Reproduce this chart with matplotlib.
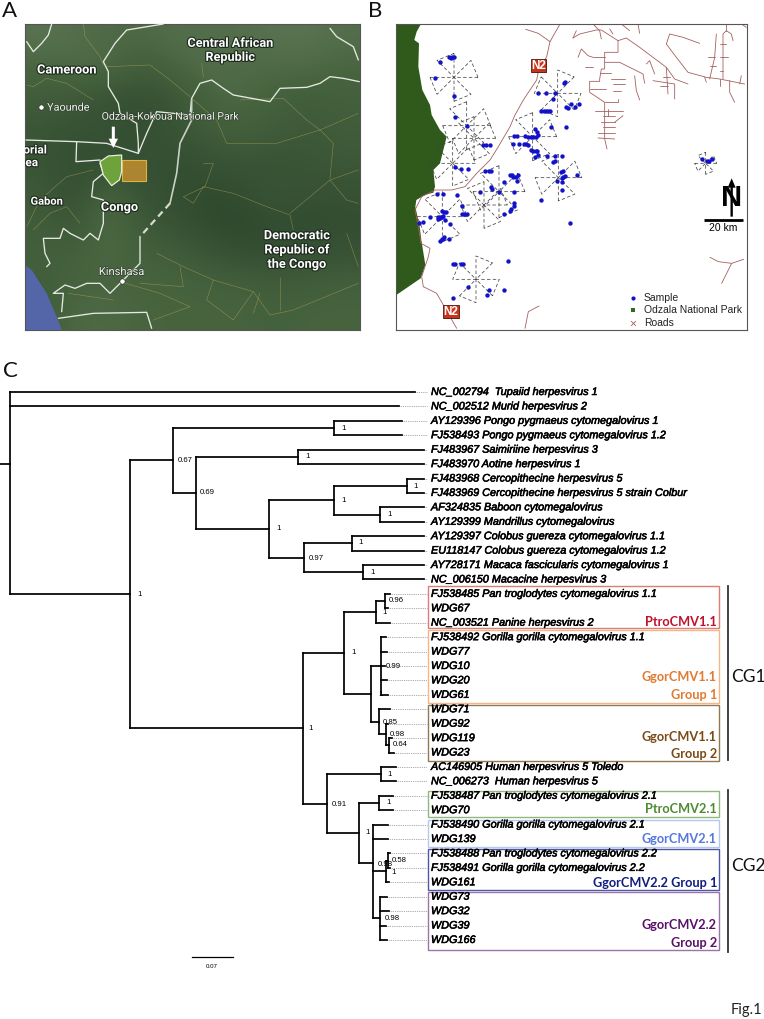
import matplotlib
matplotlib.use('Agg')
import matplotlib.pyplot as plt
import matplotlib.patheffects as pe
from matplotlib.colors import LinearSegmentedColormap
from matplotlib.patches import Polygon, Rectangle, FancyArrow
import numpy as np

W, H = 764, 1019

# ---- panel C data
tip_names = [
    'NC_002794  Tupaiid herpesvirus 1', 'NC_002512 Murid herpesvirus 2',
    'AY129396 Pongo pygmaeus cytomegalovirus 1', 'FJ538493 Pongo pygmaeus cytomegalovirus 1.2',
    'FJ483967 Saimiriine herpesvirus 3', 'FJ483970 Aotine herpesvirus 1',
    'FJ483968 Cercopithecine herpesvirus 5', 'FJ483969 Cercopithecine herpesvirus 5 strain Colbur',
    'AF324835 Baboon cytomegalovirus', 'AY129399 Mandrillus cytomegalovirus',
    'AY129397 Colobus guereza cytomegalovirus 1.1', 'EU118147 Colobus guereza cytomegalovirus 1.2',
    'AY728171 Macaca fascicularis cytomegalovirus 1', 'NC_006150 Macacine herpesvirus 3',
    'FJ538485 Pan troglodytes cytomegalovirus 1.1', 'WDG67', 'NC_003521 Panine herpesvirus 2',
    'FJ538492 Gorilla gorilla cytomegalovirus 1.1', 'WDG77', 'WDG10', 'WDG20', 'WDG61',
    'WDG71', 'WDG92', 'WDG119', 'WDG23',
    'AC146905 Human herpesvirus 5 Toledo', 'NC_006273  Human herpesvirus 5',
    'FJ538487 Pan troglodytes cytomegalovirus 2.1', 'WDG70',
    'FJ538490 Gorilla gorilla cytomegalovirus 2.1', 'WDG139',
    'FJ538488 Pan troglodytes cytomegalovirus 2.2', 'FJ538491 Gorilla gorilla cytomegalovirus 2.2', 'WDG161',
    'WDG73', 'WDG32', 'WDG39', 'WDG166']

# node = [x of the split, children...], tip = (row, x where the solid branch ends)
tree = [10, (0, 415), (1, 399),
        [130,
         [173, [334, (2, 402), (3, 402)],
          [196, [298, (4, 424), (5, 424)],
           [269,
            [334, [407, (6, 424), (7, 424)], [380, (8, 424), (9, 424)]],
            [304, [352, (10, 424), (11, 424)], [363, (12, 424), (13, 424)]]]]],
         [303,
          [344,
           [376, [385, (14, 390), (15, 388)], (16, 390)],
           [371,
            [381, (17, 386), (18, 387), (19, 385), (20, 387), (21, 388)],
            [379, (22, 390), [386, (23, 388), [389, (24, 392), (25, 394)]]]]],
          [327,
           [381, (26, 396), (27, 396)],
           [359,
            [379, (28, 393), (29, 393)],
            [373, (30, 388), (31, 388),
             [386, [388, (32, 390), (33, 390)], (34, 389)],
             [380, (35, 387), (36, 389), (37, 386), (38, 387)]]]]]]]

support_labels = ['1', '1', '0.67', '0.69', '1', '1', '1', '1', '1', '1', '0.97', '1',
                  '0.96', '1', '1', '0.99', '1', '0.85', '0.98', '0.64', '1', '1', '1',
                  '0.91', '1', '0.98', '0.58', '1', '0.98']
support_x = [137, 341, 178, 200, 305, 276, 341, 413, 387, 358, 309, 370,
             389, 382, 351, 386, 378, 383, 390, 393, 308, 387, 386,
             332, 365, 378, 392, 391, 385]
support_y = [594, 428, 460, 493, 457, 529, 500, 486, 514, 543, 558, 572,
             601, 612, 652, 666, 694, 722, 734, 745, 728, 774, 803,
             804, 833, 864, 861, 872, 919]

group_boxes_y = [(586, 628), (630, 703), (705, 761), (791, 817), (820, 847), (849, 890), (892, 950)]
group_edge = ['#dc7f72', '#f2b688', '#93784f', '#8fb87c', '#b4c8f2', '#4d58a4', '#9b74ab']

group_text = ['PtroCMV1.1', 'GgorCMV1.1', 'Group 1', 'GgorCMV1.1', 'Group 2', 'PtroCMV2.1',
              'GgorCMV2.1', 'GgorCMV2.2 Group 1', 'GgorCMV2.2', 'Group 2']
group_text_y = [622, 677, 695, 737, 754, 809, 839, 883, 925, 943]
group_text_c = ['#c0102a', '#e07a30', '#e07a30', '#7a4a17', '#7a4a17', '#4e8a30',
                '#5577e0', '#101c80', '#5a1068', '#5a1068']

# ---- panel A data (map picture, 3x coordinates)
map_tone = [
    [.65, .60, .55, .55, .60, .60, .60, .65, .65, .60],
    [.50, .55, .55, .40, .50, .60, .55, .55, .55, .50],
    [.40, .35, .25, .20, .30, .50, .55, .45, .40, .45],
    [.30, .25, .25, .20, .30, .40, .45, .40, .35, .40],
    [.30, .20, .20, .25, .20, .25, .30, .25, .30, .35],
    [.35, .20, .50, .25, .20, .15, .20, .30, .25, .25],
    [.40, .30, .60, .35, .25, .15, .12, .20, .15, .20],
    [.45, .45, .55, .45, .40, .30, .20, .20, .25, .25],
    [.40, .50, .50, .50, .50, .45, .45, .40, .40, .45],
    [.40, .55, .55, .50, .50, .50, .50, .45, .50, .50]]

ocean = [(75, 795), (95, 810), (140, 880), (170, 950), (185, 990), (75, 990)]
park_a = [(300, 485), (325, 468), (365, 465), (365, 515), (358, 540), (335, 557), (310, 525)]

borders = [
    [(490, 72), (380, 90), (345, 130), (310, 185), (325, 215), (325, 260), (355, 310), (360, 340), (410, 370), (415, 430), (415, 460)],
    [(155, 72), (145, 105), (125, 130), (100, 155), (80, 125)],
    [(78, 420), (230, 425), (320, 430), (415, 460)],
    [(230, 425), (228, 485), (300, 480)],
    [(300, 490), (310, 520), (280, 545), (275, 590), (310, 600), (310, 670), (295, 720), (270, 700), (250, 720), (210, 700), (190, 685), (180, 715), (130, 715), (135, 760), (150, 790), (140, 800)],
    [(415, 460), (440, 400), (470, 335), (570, 345), (575, 295), (600, 250), (635, 240), (670, 265), (700, 285), (810, 305), (840, 265), (920, 262), (960, 250), (990, 230), (1030, 235), (1078, 245)],
    [(420, 710), (420, 790), (365, 845), (330, 880), (300, 850), (260, 850), (225, 865), (195, 855), (160, 880), (190, 880), (185, 935)],
    [(175, 955), (280, 940), (440, 937), (455, 985)],
    [(990, 85), (1010, 110), (1060, 140), (1075, 180)]]
river = [(575, 300), (575, 360), (540, 430), (530, 520), (510, 610)]
river_gap = [(510, 610), (420, 710)]

map_roads = [
    [(250, 72), (255, 110), (300, 170), (310, 195)],
    [(320, 200), (450, 195), (510, 240), (570, 290)],
    [(80, 255), (100, 260), (140, 235), (200, 250), (280, 300)],
    [(605, 190), (610, 230)],
    [(575, 295), (650, 360), (680, 430), (830, 430), (960, 390), (1000, 430), (990, 535)],
    [(960, 390), (1075, 340)],
    [(720, 300), (850, 295), (920, 360), (960, 390)],
    [(610, 490), (640, 490), (615, 560), (550, 590), (580, 610), (610, 560), (700, 580), (800, 620), (870, 645), (880, 690)],
    [(870, 640), (990, 540), (1075, 510)],
    [(990, 540), (1040, 600), (1075, 610)],
    [(470, 760), (550, 800), (640, 840), (760, 875), (810, 945), (880, 930), (1075, 850)],
    [(640, 840), (620, 900), (700, 960), (760, 875)],
    [(540, 800), (550, 860), (420, 850)],
    [(360, 845), (480, 880), (570, 920), (460, 960)],
    [(205, 880), (340, 900)],
    [(100, 690), (150, 640), (200, 620), (240, 670)],
    [(1040, 700), (1075, 800)],
    [(780, 880), (760, 940)],
    [(840, 830), (840, 930)],
    [(80, 680), (120, 600), (200, 530), (280, 510)]]

bold_labels = ['Central African', 'Republic', 'Cameroon', 'Gabon', 'Congo', 'Democratic', 'Republic of', 'the Congo',
               'orial', 'ea']
bold_x = [690, 690, 200, 140, 358, 890, 890, 890, 105, 95]
bold_y = [130, 172, 210, 605, 622, 707, 750, 793, 450, 488]
bold_size = [9.1, 9.1, 9.2, 8.0, 9.2, 9.2, 9.2, 9.2, 8.5, 8.5]

# ---- panel B data (map picture, 3x coordinates)
park_b = [(43, 72), (118, 72), (105, 95), (98, 120), (112, 130), (110, 200), (122, 270), (145, 315), (150, 345),
          (175, 390), (195, 410), (185, 450), (175, 490), (155, 510), (160, 560), (155, 578), (129, 585), (104, 600),
          (101, 620), (114, 680), (119, 720), (131, 795), (117, 835), (44, 885)]

sample_x = [175, 203, 207, 212, 217, 161, 217, 221, 255, 305, 312, 326, 219, 237, 259,
            549, 546, 470, 492, 519, 513, 592, 569, 580, 553, 559, 479, 486, 492, 499, 506, 507, 553,
            460, 465, 468, 463, 455, 447, 440, 431, 406, 398, 394, 413, 427, 432, 440, 447, 455, 463, 467, 470, 461,
            497, 521, 541, 520, 513, 545, 538, 587, 550, 545, 540, 525, 540, 541, 477, 565,
            311, 323, 329, 385, 390, 395, 402, 408, 366, 405, 327, 331, 296, 352, 398, 226, 166, 185,
            398, 397, 241, 388, 385, 366, 241, 247, 257,
            180, 188, 193, 146, 170, 175, 180, 170, 183, 174, 190, 204, 112, 124, 186, 183, 180, 176, 203,
            215, 220, 238, 243, 378, 260, 321, 315, 366, 213, 961, 975, 982, 992]
sample_y = [187, 172, 174, 172, 170, 233, 287, 352, 378, 435, 434, 436, 502, 507, 507,
            247, 249, 280, 279, 279, 296, 311, 311, 320, 320, 323, 334, 334, 333, 334, 334, 380, 380,
            386, 397, 405, 410, 410, 410, 410, 409, 408, 409, 433, 433, 433, 433, 434, 451, 452, 452, 452, 465, 470,
            468, 468, 469, 482, 486, 514, 516, 524, 528, 531, 534, 544, 546, 570, 601, 670,
            513, 512, 512, 525, 524, 530, 530, 524, 545, 542, 560, 566, 575, 575, 576, 585, 583, 583,
            610, 618, 617, 628, 632, 642, 642, 642, 642,
            632, 637, 637, 652, 651, 652, 652, 657, 648, 655, 660, 672, 668, 667, 712, 716, 718, 724, 718,
            792, 793, 793, 792, 783, 861, 871, 885, 870, 893, 478, 483, 482, 478]

wheel_x = [217, 255, 277, 213, 352, 307, 182, 453, 528, 530, 283, 972]
wheel_y = [232, 377, 415, 490, 575, 615, 650, 410, 280, 533, 838, 490]
wheel_r = [72, 72, 65, 68, 78, 70, 75, 72, 70, 70, 70, 33]
wheel_rot = [0, 0, 0, 0, 0, 0, 0, 0, 45, 0, 45, 0]

main_road = [(535, 72), (505, 125), (495, 170), (470, 215), (465, 240), (425, 300), (400, 345), (385, 380), (350, 440),
             (325, 480), (285, 520), (250, 560), (210, 570), (160, 570), (120, 590), (100, 630), (110, 680), (118, 730),
             (145, 745), (140, 770), (120, 830), (125, 860), (165, 880), (185, 915), (225, 985)]
small_roads = [
    [(430, 985), (440, 935), (472, 918)],
    [(985, 772), (1010, 785), (1050, 790), (1086, 778)],
    [(1050, 790), (1020, 850)],
    [(395, 72), (412, 72)],
    [(432, 88), (470, 100), (505, 125)]]
# road network, crop coordinates, moved onto the panel when drawn
network = [
    [(40, 42), (60, 30), (110, 18), (125, 18), (175, 50), (200, 42), (240, 70), (320, 130), (345, 165), (385, 180)],
    [(175, 50), (175, 85), (135, 85), (135, 135), (125, 135), (120, 165), (120, 172), (90, 172), (90, 205), (135, 235), (135, 345), (142, 375)],
    [(135, 115), (180, 115), (250, 150), (255, 178)],
    [(100, 100), (135, 100)], [(75, 130), (100, 130)], [(55, 100), (65, 75), (85, 95), (100, 100)],
    [(120, 148), (155, 148)], [(155, 165), (195, 165)], [(160, 180), (195, 180)], [(160, 200), (185, 200)],
    [(90, 195), (140, 195)], [(135, 235), (175, 235), (175, 225)], [(105, 260), (190, 260)], [(145, 255), (145, 275)],
    [(130, 275), (165, 275)], [(165, 295), (190, 275)], [(125, 295), (165, 295)], [(130, 310), (165, 310)],
    [(115, 328), (165, 328)], [(115, 342), (165, 345)],
    [(225, 155), (230, 200), (240, 228)],
    [(320, 130), (325, 210)], [(280, 170), (345, 180), (345, 225)], [(300, 185), (325, 185)], [(310, 160), (330, 160)],
    [(260, 120), (270, 110), (285, 150)],
    [(320, 60), (330, 30), (370, 40), (420, 58)],
    [(320, 60), (350, 100), (385, 145), (440, 160), (480, 165), (555, 180)],
    [(490, 165), (490, 30), (500, 20), (515, 30), (520, 50)],
    [(470, 30), (465, 100), (450, 165)], [(450, 125), (470, 125)], [(445, 100), (465, 100)],
    [(480, 60), (500, 60)], [(480, 100), (505, 100)], [(480, 140), (490, 140)], [(435, 160), (440, 175)],
    [(510, 170), (510, 205), (525, 235)], [(480, 165), (480, 185)], [(540, 180), (545, 155)],
    [(500, 0), (500, 20)], [(545, 0), (560, 10)], [(185, 0), (210, 20)], [(235, 0), (240, 28)],
    [(40, 42), (50, 20)], [(100, 0), (120, 20), (125, 45)], [(150, 15), (160, 30)]]
network_dx, network_dy = 534, 72


def panel_axes(fig, left, top, right, bottom, xlim, ylim):
    ax = fig.add_axes([left / W, 1 - bottom / H, (right - left) / W, (bottom - top) / H])
    ax.set_xlim(*xlim)
    ax.set_ylim(*ylim)
    ax.set_xticks([])
    ax.set_yticks([])
    for s in ax.spines.values():
        s.set_edgecolor('#555555')
        s.set_linewidth(0.8)
    return ax


def polyline(ax, pts, **kw):
    ax.plot([p[0] for p in pts], [p[1] for p in pts], solid_capstyle='round', **kw)


def draw_tree(ax, node):
    """draws a clade, returns the y of its stem"""
    if isinstance(node, tuple):
        row, end = node
        y = 392 + row * 14.42
        ax.plot([end, 427], [y, y], color='#8a8a8a', lw=0.6, ls=(0, (1, 1.2)), zorder=2)
        ax.text(431, y, tip_names[row], style='italic', family='Liberation Sans', fontsize=7.8,
                va='center', ha='left', color='black',
                path_effects=[pe.withStroke(linewidth=0.4, foreground='black')], zorder=5)
        return y, end
    x = node[0]
    ys = []
    for child in node[1:]:
        cy, cx = draw_tree(ax, child)
        ax.plot([x, cx], [cy, cy], color='black', lw=1.25, solid_capstyle='projecting', zorder=3)
        ys.append(cy)
    ax.plot([x, x], [min(ys), max(ys)], color='black', lw=1.25, solid_capstyle='projecting', zorder=3)
    return float(np.mean(ys)), x


fig = plt.figure(figsize=(W / 100, H / 100), dpi=100)

# ---------- whole page axes, pixel coordinates: panel C and letters
ax = fig.add_axes([0, 0, 1, 1])
ax.set_xlim(0, W)
ax.set_ylim(H, 0)
ax.axis('off')

for txt, x, y in [('A', 2, 11), ('B', 368, 11), ('C', 3, 371)]:
    ax.text(x, y, txt, family='Lato', fontsize=16, ha='left', va='center', color='#111111')

root_y, root_x = draw_tree(ax, tree)
ax.plot([0, root_x], [root_y, root_y], color='black', lw=1.25)

for txt, x, y in zip(support_labels, support_x, support_y):
    ax.text(x, y, txt, family='Liberation Sans', fontsize=5.6, ha='left', va='center', color='black', zorder=6)

for (y0, y1), c in zip(group_boxes_y, group_edge):
    ax.add_patch(Rectangle((428, y0), 291, y1 - y0, fill=False, edgecolor=c, lw=1.0, zorder=4))
for txt, y, c in zip(group_text, group_text_y, group_text_c):
    ax.text(717, y, txt, family='Lato', weight='bold', fontsize=9.2, ha='right', va='center', color=c, zorder=6)

ax.plot([728, 728], [586, 760], color='#333333', lw=1.3)
ax.plot([728, 728], [790, 952], color='#333333', lw=1.3)
ax.text(731, 677, 'CG1', family='Lato', fontsize=12.5, ha='left', va='center', color='#111111')
ax.text(731, 866, 'CG2', family='Lato', fontsize=12.5, ha='left', va='center', color='#111111')
ax.text(731, 1010, 'Fig.1', family='Lato', fontsize=10.5, ha='left', va='center', color='#222222')

ax.plot([192, 233], [957, 957], color='black', lw=0.9)
ax.text(212, 966, '0.07', family='Liberation Sans', fontsize=4.4, ha='center', va='center', color='black')

# ---------- panel A
axa = panel_axes(fig, 25, 24, 360, 330, (75, 1080), (990, 72))
tone_cmap = LinearSegmentedColormap.from_list('tone', ['#263f28', '#47643f', '#85957a'])
axa.imshow(map_tone, cmap=tone_cmap, vmin=0, vmax=1, extent=(75, 1080, 990, 72),
           interpolation='bicubic', aspect='auto', zorder=1)
axa.add_patch(Polygon(ocean, closed=True, facecolor='#5465a8', edgecolor='none', zorder=2))
for pts in map_roads:
    polyline(axa, pts, color='#b0a25c', lw=0.4, alpha=0.65, zorder=3)
for pts in borders:
    polyline(axa, pts, color='#e6e9e2', lw=0.95, zorder=4)
polyline(axa, river, color='#c9d0c6', lw=1.2, zorder=4)
polyline(axa, river_gap, color='#d6dbd2', lw=1.6, ls=(0, (3, 2)), zorder=4)
axa.add_patch(Rectangle((365, 480), 73, 62, facecolor='#ad8530', edgecolor='#e0b040', lw=0.8, zorder=5))
axa.add_patch(Polygon(park_a, closed=True, facecolor='#6da33a', edgecolor='#e8eee0', lw=0.9, zorder=6))
axa.add_patch(FancyArrow(340, 380, 0, 64, width=9, head_width=28, head_length=28, length_includes_head=True,
                         facecolor='white', edgecolor='none', zorder=7))

halo = [pe.withStroke(linewidth=1.6, foreground='#1d2a1d')]
for txt, x, y, size in zip(bold_labels, bold_x, bold_y, bold_size):
    axa.text(x, y, txt, family='Roboto', weight='bold', fontsize=size, ha='center', va='center',
             color='white', path_effects=halo, zorder=8, clip_on=True)
for txt, x, y, size in [('Yaounde', 205, 323, 7.8), ('Odzala-Kokoua National Park', 510, 350, 7.6),
                        ('Kinshasa', 365, 816, 8.0)]:
    axa.text(x, y, txt, family='Roboto', fontsize=size, ha='center', va='center', color='#f2f4ee',
             path_effects=[pe.withStroke(linewidth=0.8, foreground='#2a3a2a')], zorder=8)
axa.scatter([123, 365], [322, 843], s=14, facecolor='white', edgecolor='#222222', linewidth=0.4, zorder=8)

# ---------- panel B
axb = panel_axes(fig, 396, 24, 747, 330, (43, 1096), (990, 72))
axb.add_patch(Polygon(park_b, closed=True, facecolor='#2f5a1b', edgecolor='none', zorder=1))
road_c = '#a5605f'
polyline(axb, main_road, color=road_c, lw=0.6, zorder=2)
for pts in small_roads:
    polyline(axb, pts, color=road_c, lw=0.6, zorder=2)
for pts in network:
    polyline(axb, [(p[0] + network_dx, p[1] + network_dy) for p in pts], color=road_c, lw=0.6, zorder=2)

for cx, cy, r, rot in zip(wheel_x, wheel_y, wheel_r, wheel_rot):
    for start in range(0, 360, 90):
        a0 = np.deg2rad(rot + start)
        a1 = np.deg2rad(rot + start + 45)
        px = [cx + r * np.cos(a0), cx, cx + r * np.cos(a1), cx + r * np.cos(a0)]
        py = [cy - r * np.sin(a0), cy, cy - r * np.sin(a1), cy - r * np.sin(a0)]
        axb.plot(px, py, color='#444444', lw=0.55, ls=(0, (4.5, 3)), zorder=3)

axb.scatter(sample_x, sample_y, s=10, color='#1212c8', linewidth=0, zorder=4)

for x, y in [(471, 197), (208, 935)]:
    axb.add_patch(Rectangle((x - 21, y - 18), 46, 40, facecolor='#5a3a30', edgecolor='none', alpha=0.6, zorder=5.5))
    axb.add_patch(Rectangle((x - 23, y - 20), 46, 40, facecolor='#c8341a', edgecolor='#4a1a10', lw=0.6, zorder=6))
    axb.text(x, y, 'N2', family='Liberation Sans', weight='bold', fontsize=8.5, color='white',
             ha='center', va='center', zorder=7)

axb.add_patch(FancyArrow(1050, 650, 0, -115, width=7, head_width=24, head_length=28, length_includes_head=True,
                         facecolor='black', edgecolor='none', zorder=5))
axb.text(1050, 595, 'N', family='Liberation Sans', weight='bold', fontsize=21, ha='center', va='center',
         color='black', zorder=5)
axb.plot([966, 1084], [660, 660], color='black', lw=2.0, solid_capstyle='butt', zorder=5)
axb.text(1026, 685, '20 km', family='Liberation Sans', fontsize=7.5, ha='center', va='center', color='black', zorder=5)

axb.scatter([755], [893], s=9, color='#1212c8', linewidth=0, zorder=5)
axb.scatter([755], [930], s=12, marker='s', color='#2f6a1f', linewidth=0, zorder=5)
axb.scatter([755], [968], s=12, marker='x', color=road_c, linewidth=0.6, zorder=5)
for txt, y in [('Sample', 893), ('Odzala National Park', 930), ('Roads', 968)]:
    axb.text(787, y, txt, family='Liberation Sans', fontsize=7.5, ha='left', va='center', color='#222222', zorder=5)

fig.savefig('out.png', dpi=100)
plt.close(fig)
